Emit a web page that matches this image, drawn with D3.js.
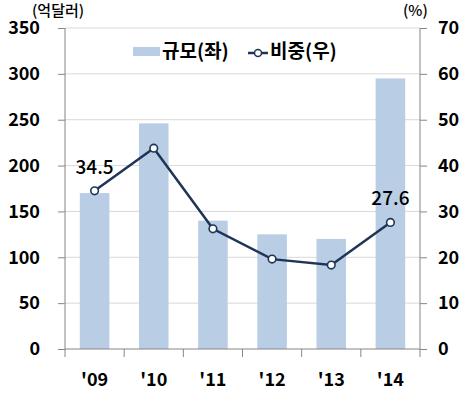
<!DOCTYPE html>
<html>
<head>
<meta charset="utf-8">
<script src="https://cdn.jsdelivr.net/npm/d3@7"></script>
<style>
  html, body { margin: 0; padding: 0; background: #fff; }
  svg { display: block; }
  text { font-family: "Noto Sans CJK KR", "Noto Sans", sans-serif; }
</style>
</head>
<body>
<svg id="chart" width="471" height="398"></svg>
<script>
const categories = ["'09", "'10", "'11", "'12", "'13", "'14"];
const sizeValues = [170, 246, 140, 125, 120, 295];     // 규모(좌), 억달러
const shareValues = [34.5, 43.8, 26.2, 19.6, 18.3, 27.6]; // 비중(우), %
const leftTicks = [0, 50, 100, 150, 200, 250, 300, 350];
const rightTicks = [0, 10, 20, 30, 40, 50, 60, 70];
const labeledPoints = ["'09", "'14"];
const legendLabels = ["규모(좌)", "비중(우)"];

const W = 471, H = 398;
const m = { left: 65, right: 51, top: 28, bottom: 49 };
const pw = W - m.left - m.right, ph = H - m.top - m.bottom;

const svg = d3.select("#chart");
const g = svg.append("g").attr("transform", `translate(${m.left},${m.top})`);

const x = d3.scaleBand().domain(categories).range([0, pw]).paddingInner(0.5).paddingOuter(0.25);
const xb = d3.scaleBand().domain(categories).range([0, pw]);
const yL = d3.scaleLinear().domain([0, 350]).range([ph, 0]);
const yR = d3.scaleLinear().domain([0, 70]).range([ph, 0]);

// gridlines
g.append("g").selectAll("line").data(leftTicks.slice(1)).join("line")
  .attr("x1", 0).attr("x2", pw)
  .attr("y1", d => yL(d)).attr("y2", d => yL(d))
  .attr("stroke", "#d9d9d9").attr("stroke-width", 1);

// bars
g.append("g").selectAll("rect").data(categories).join("rect")
  .attr("x", (d) => x(d))
  .attr("width", x.bandwidth())
  .attr("y", (d, i) => yL(sizeValues[i]))
  .attr("height", (d, i) => ph - yL(sizeValues[i]))
  .attr("fill", "#b9cde5");

// axes
const axisColor = "#868686";
const left = g.append("g").call(d3.axisLeft(yL).tickValues(leftTicks).tickSize(7).tickPadding(18));
const right = g.append("g").attr("transform", `translate(${pw},0)`)
  .call(d3.axisRight(yR).tickValues(rightTicks).tickSize(7).tickPadding(11));
const bottom = g.append("g").attr("transform", `translate(0,${ph})`)
  .call(d3.axisBottom(xb).tickSize(0).tickPadding(24));
[left, right, bottom].forEach(a => {
  a.select(".domain").attr("stroke", axisColor);
  a.selectAll(".tick line").attr("stroke", axisColor);
  a.selectAll(".tick text").attr("fill", "#000").style("font-size", "18px").style("font-weight", "bold");
});
left.select(".domain").attr("d", `M0,0V${ph}`);
right.select(".domain").attr("d", `M0,0V${ph}`);
bottom.select(".domain").attr("d", `M0,0H${pw}`);
// category boundary ticks on bottom axis
const bounds = categories.map(c => xb(c)).concat([pw]);
bottom.append("g").selectAll("line").data(bounds).join("line")
  .attr("x1", d => d).attr("x2", d => d).attr("y1", 0).attr("y2", 8)
  .attr("stroke", axisColor);

// line
const cx = d => xb(d) + xb.bandwidth() / 2;
const line = d3.line().x((d, i) => cx(categories[i])).y(d => yR(d));
g.append("path").datum(shareValues).attr("d", line)
  .attr("fill", "none").attr("stroke", "#1f3558").attr("stroke-width", 2.5);
g.append("g").selectAll("circle").data(shareValues).join("circle")
  .attr("cx", (d, i) => cx(categories[i])).attr("cy", d => yR(d)).attr("r", 3.8)
  .attr("fill", "#fff").attr("stroke", "#1f3558").attr("stroke-width", 1.6);

// data labels
g.append("g").selectAll("text").data(categories.map((c, i) => ({ c, v: shareValues[i] })).filter(d => labeledPoints.includes(d.c)))
  .join("text")
  .attr("x", d => cx(d.c)).attr("y", d => yR(d.v) - 17)
  .attr("text-anchor", "middle").style("font-size", "19px").style("font-weight", "500").attr("fill", "#000")
  .text(d => d.v.toFixed(1));

// unit labels
svg.append("text").attr("x", 32).attr("y", 16).style("font-size", "15px").style("font-weight", "500").text("(억달러)");
svg.append("text").attr("x", 403).attr("y", 16).style("font-size", "15px").style("font-weight", "500").text("(%)");

// legend
const lg = svg.append("g");
lg.append("rect").attr("x", 133).attr("y", 47).attr("width", 27).attr("height", 9).attr("fill", "#b9cde5");
lg.append("text").attr("x", 162).attr("y", 58).style("font-size", "19px").style("font-weight", "bold").text(legendLabels[0]);
lg.append("line").attr("x1", 248).attr("x2", 268).attr("y1", 53).attr("y2", 53).attr("stroke", "#1f3558").attr("stroke-width", 2.5);
lg.append("circle").attr("cx", 258).attr("cy", 53).attr("r", 3.5).attr("fill", "#fff").attr("stroke", "#1f3558").attr("stroke-width", 1.5);
lg.append("text").attr("x", 270).attr("y", 58).style("font-size", "19px").style("font-weight", "bold").text(legendLabels[1]);
</script>
</body>
</html>
